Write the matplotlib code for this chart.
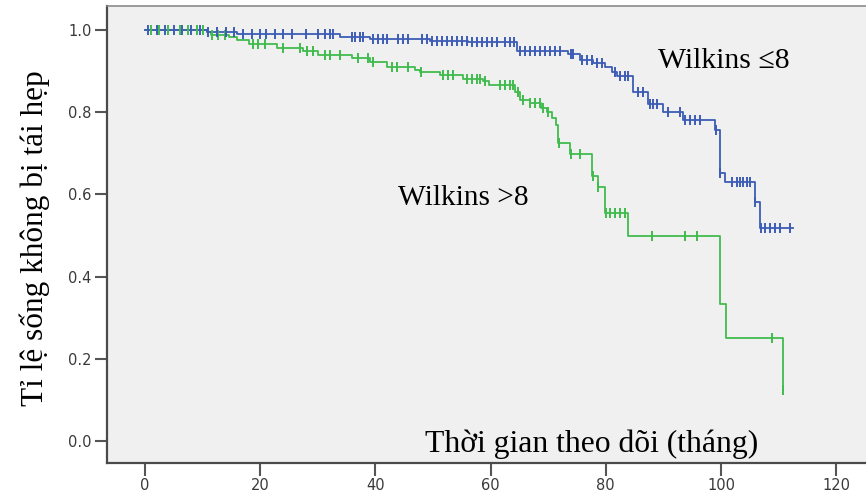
import numpy as np
import matplotlib
matplotlib.use('Agg')
import matplotlib.pyplot as plt

# ---- data ----
blue_times = [0, 10.8, 16, 33.9, 39, 49.5, 56, 64.6, 73.4, 75.5, 77.8, 79.9, 81.1, 81.9,
              84.7, 87.3, 89.9, 93.4, 99.0, 99.8, 100.7, 105.9, 106.8]
blue_surv = [1.0, 0.995, 0.990, 0.982, 0.978, 0.974, 0.971, 0.950, 0.942, 0.927, 0.920,
             0.911, 0.899, 0.889, 0.849, 0.820, 0.800, 0.781, 0.756, 0.653, 0.631, 0.582, 0.518]
blue_end = 112.5
blue_cens = [0.5, 2, 3.5, 5, 6.5, 8, 9.5, 11, 12.5, 14, 15.5, 17, 18.5, 20, 21, 22.5, 24, 25.5,
             28, 30, 31.3, 32.1, 32.6, 35.9, 36.5, 37.3, 37.8, 39.6, 40.5, 41.3, 42, 43.9, 44.8,
             45.7, 48.1, 49, 49.8, 50.7, 51.6, 52.4, 53.3, 54.2, 55, 55.9, 56.8, 57.6, 58.5,
             59.4, 60.2, 61.1, 62.5, 63.4, 64, 65.1, 66, 66.8, 67.7, 68.6, 69.4, 70.3, 71.2,
             72, 73.9, 74.3, 75.8, 76.7, 77.6, 78.5, 79.3, 81.6, 82.5, 83.3, 83.9, 85.6, 86.5,
             87.7, 88.2, 88.9, 90.8, 92.9, 93.8, 94.6, 95.5, 96.4, 99.1, 99.9, 101.9, 102.8,
             103.3, 103.8, 104.5, 105, 105.9, 106.9, 107.6, 108.5, 109.4, 110.2, 112]

green_times = [0, 10.8, 11.5, 14.5, 16, 18, 23, 27.5, 30.0, 36.0, 39.1, 42, 46.9, 47.8, 51.2,
               55.2, 58.7, 59.7, 64.2, 65.1, 66.8, 68.8, 69.8, 70.7, 71.4, 71.7, 73.8, 77.6,
               78.6, 79.9, 83.9, 99.8, 100.9, 110.8]
green_surv = [1.0, 0.995, 0.988, 0.982, 0.975, 0.966, 0.955, 0.948, 0.940, 0.932, 0.923,
              0.911, 0.903, 0.899, 0.891, 0.882, 0.876, 0.866, 0.850, 0.830, 0.822, 0.810,
              0.800, 0.786, 0.769, 0.725, 0.698, 0.645, 0.617, 0.555, 0.500, 0.333, 0.250, 0.124]
green_end = 110.8
green_cens = [1, 2.5, 4, 6, 7.5, 9, 10, 11.6, 12.7, 13.9, 18.8, 19.6, 20.8, 24, 26.9, 28.2,
              29.2, 31.3, 32.1, 33.9, 37, 38.7, 39.5, 42.9, 43.8, 45.7, 47.9, 51.7, 52.6, 53.5,
              55.9, 56.8, 57.6, 58.2, 59, 61.6, 62.5, 63.4, 63.9, 64.8, 65.6, 66.8, 67.7, 68.6,
              69.1, 70.0, 71.8, 73.9, 75.5, 77.7, 78.7, 80.0, 80.7, 81.6, 82.5, 83.3, 88, 93.8,
              95.8, 108.9, 110.8]

x_ticks = [0, 20, 40, 60, 80, 100, 120]
y_ticks = [0.0, 0.2, 0.4, 0.6, 0.8, 1.0]
y_label = "Tỉ lệ sống không bị tái hẹp"
x_label = "Thời gian theo dõi (tháng)"
label_blue = "Wilkins ≤8"
label_green = "Wilkins >8"

BLUE = '#3d5cb5'
GREEN = '#40bb4e'

fig = plt.figure(figsize=(8.66, 4.90), dpi=100)
ax = fig.add_axes([107 / 866, 27 / 490, (893.8 - 107) / 866, (463 - 6) / 490])
ax.set_facecolor('#f0f0f0')
ax.set_xlim(-6.6, 130)
ax.set_ylim(-0.0535, 1.0584)


def draw(times, surv, end, cens, color):
    t = np.array(list(times) + [end])
    s = np.array(list(surv) + [surv[-1]])
    ax.step(t, s, where='post', color=color, lw=1.3, zorder=3)
    c = np.array(cens)
    idx = np.searchsorted(np.array(times), c, side='right') - 1
    cs = np.array(surv)[idx]
    ax.plot(c, cs, linestyle='none', marker='|', markersize=7.5, markeredgewidth=1.4,
            color=color, zorder=4)


draw(green_times, green_surv, green_end, green_cens, GREEN)
draw(blue_times, blue_surv, blue_end, blue_cens, BLUE)

ax.set_xticks(x_ticks)
ax.set_yticks(y_ticks)
ax.set_yticklabels([f"{v:.1f}" for v in y_ticks])
ax.tick_params(axis='both', direction='out', length=9, width=1.5, color='#555555',
               labelsize=10.5, labelcolor='#3a3a3a', pad=2)
for lab in ax.get_xticklabels() + ax.get_yticklabels():
    lab.set_family('DejaVu Sans')

for side in ['left', 'bottom']:
    ax.spines[side].set_color('#4a4a4a')
    ax.spines[side].set_linewidth(1.6)
ax.spines['top'].set_color('#8a8a8a')
ax.spines['top'].set_linewidth(1.2)
ax.spines['right'].set_visible(False)

serif = ['Liberation Serif', 'DejaVu Serif']
fig.text(35 / 866, 1 - 238 / 490, y_label, rotation=90, ha='center', va='center',
         fontsize=22.5, family=serif)
ax.text(48.6, -0.027, x_label, ha='left', va='baseline', fontsize=22.8, family=serif)
ax.text(43.9, 0.574, label_green, ha='left', va='baseline', fontsize=21.2, family=serif)
ax.text(89.1, 0.907, label_blue, ha='left', va='baseline', fontsize=21.4, family=serif)

fig.savefig('out.png', dpi=100, facecolor='white')
